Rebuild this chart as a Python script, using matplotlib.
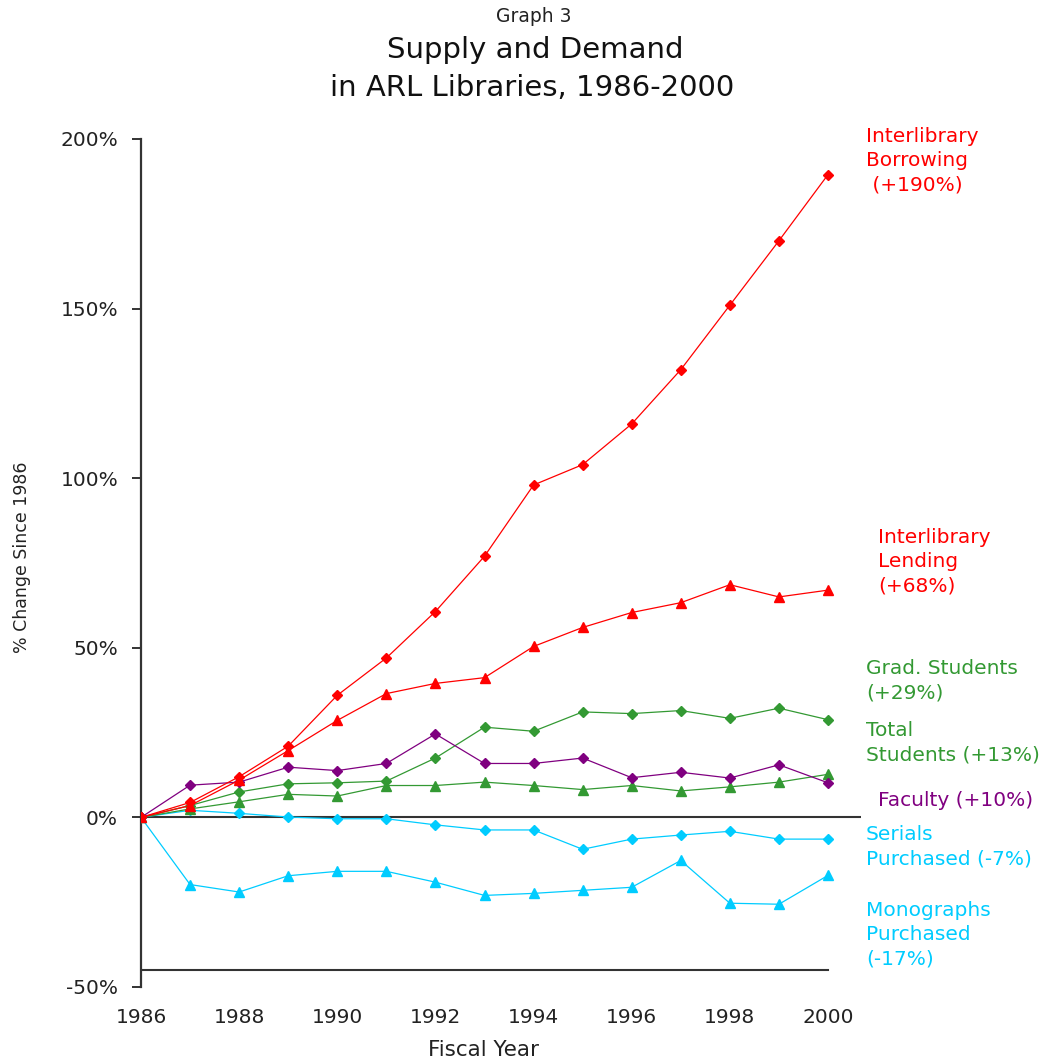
import matplotlib
matplotlib.use("Agg")
import matplotlib.pyplot as plt

plt.rcParams['font.family'] = ['DejaVu Sans']

years = list(range(1986, 2001))
borrowing = [0, 4.4, 12, 21, 36, 47, 60.7, 77, 98, 104, 116, 132, 151, 170, 189.5]
lending = [0, 3.5, 11, 19.7, 28.6, 36.5, 39.5, 41.2, 50.4, 56, 60.4, 63.3, 68.6, 65, 67]
grad_students = [0, 3.5, 7.5, 9.9, 10.2, 10.7, 17.5, 26.6, 25.4, 31.1, 30.6, 31.5, 29.2, 32.2, 28.8]
total_students = [0, 2.5, 4.6, 6.8, 6.3, 9.4, 9.4, 10.4, 9.4, 8.2, 9.4, 7.8, 9.0, 10.4, 12.7]
faculty = [0, 9.5, 10.4, 14.8, 13.8, 15.9, 24.6, 15.9, 15.9, 17.5, 11.7, 13.3, 11.6, 15.5, 10.2]
serials = [0, 2.1, 1.2, 0.1, -0.4, -0.4, -2.2, -3.7, -3.7, -9.4, -6.4, -5.2, -4.1, -6.4, -6.4]
monographs = [0, -19.8, -22.0, -17.2, -15.9, -15.9, -19.1, -23.0, -22.4, -21.5, -20.6, -12.7, -25.3, -25.6, -17.1]

yticks = [-50, 0, 50, 100, 150, 200]
ytick_labels = ["-50%", "0%", "50%", "100%", "150%", "200%"]
xticks = list(range(1986, 2001, 2))
xtick_labels = [str(y) for y in xticks]

RED = "#FF0000"
GREEN = "#339933"
PURPLE = "#800080"
CYAN = "#00CCFF"

W, H = 1063, 1064
fig = plt.figure(figsize=(W / 100, H / 100), dpi=100)

def fx(px):
    return px / W

def fy(py):
    return 1 - py / H

ax_left, ax_right = 141, 861
ax_top, ax_bottom = 139, 987
ax = fig.add_axes([fx(ax_left), fy(ax_bottom), (ax_right - ax_left) / W, (ax_bottom - ax_top) / H])

x0 = 1986
px_per_year = (828 - 141) / 14.0
ax.set_xlim(x0, x0 + (ax_right - ax_left) / px_per_year)
ax.set_ylim(-50, 200)

for s in ["top", "right", "bottom"]:
    ax.spines[s].set_visible(False)
ax.spines["left"].set_color("#333333")
ax.spines["left"].set_linewidth(1.6)

ax.axhline(0, color="#333333", lw=1.5, zorder=1)
ax.plot([1986, 2000], [-45, -45], color="#333333", lw=1.5, zorder=1)

tick_fs = 14.5
ax.set_yticks(yticks)
ax.set_yticklabels(ytick_labels)
ax.tick_params(axis="y", direction="out", length=6.5, width=1.4, color="#333333",
               labelsize=tick_fs, pad=10, labelcolor="#222222")
ax.set_xticks(xticks)
ax.set_xticklabels(xtick_labels)
ax.tick_params(axis="x", length=0, labelsize=tick_fs, pad=15, labelcolor="#222222")

lw = 0.9
ax.plot(years, monographs, color=CYAN, lw=lw, marker="^", ms=7.5, zorder=3)
ax.plot(years, serials, color=CYAN, lw=lw, marker="D", ms=5.5, zorder=3)
ax.plot(years, total_students, color=GREEN, lw=lw, marker="^", ms=7.5, zorder=3)
ax.plot(years, grad_students, color=GREEN, lw=lw, marker="D", ms=5.5, zorder=3)
ax.plot(years, faculty, color=PURPLE, lw=lw, marker="D", ms=5.5, zorder=4)
ax.plot(years, lending, color=RED, lw=lw, marker="^", ms=7.5, zorder=5)
ax.plot(years, borrowing, color=RED, lw=lw, marker="D", ms=5.5, zorder=5)

fs = 14.5
ls = 1.36
def label(px, py, txt, color):
    fig.text(fx(px), fy(py), txt, color=color, fontsize=fs, ha="left", va="top",
             linespacing=ls)

label(866, 127, "Interlibrary\nBorrowing\n (+190%)", RED)
label(878, 528, "Interlibrary\nLending\n(+68%)", RED)
label(866, 659, "Grad. Students\n(+29%)", GREEN)
label(866, 721, "Total\nStudents (+13%)", GREEN)
label(878, 791, "Faculty (+10%)", PURPLE)
label(866, 825, "Serials\nPurchased (-7%)", CYAN)
label(866, 901, "Monographs\nPurchased\n(-17%)", CYAN)

fig.text(fx(534), fy(16), "Graph 3", fontsize=13.5, ha="center", va="center", color="#222222")
fig.text(fx(535), fy(50), "Supply and Demand", fontsize=21, ha="center", va="center", color="#111111")
fig.text(fx(532), fy(88), "in ARL Libraries, 1986-2000", fontsize=21, ha="center", va="center", color="#111111")

fig.text(fx(484), fy(1050), "Fiscal Year", fontsize=15.5, ha="center", va="center", color="#222222")
fig.text(fx(22), fy(557), "% Change Since 1986", fontsize=12.5, ha="center", va="center",
         rotation=90, color="#222222")

fig.savefig("out.png", dpi=100, facecolor="white")
